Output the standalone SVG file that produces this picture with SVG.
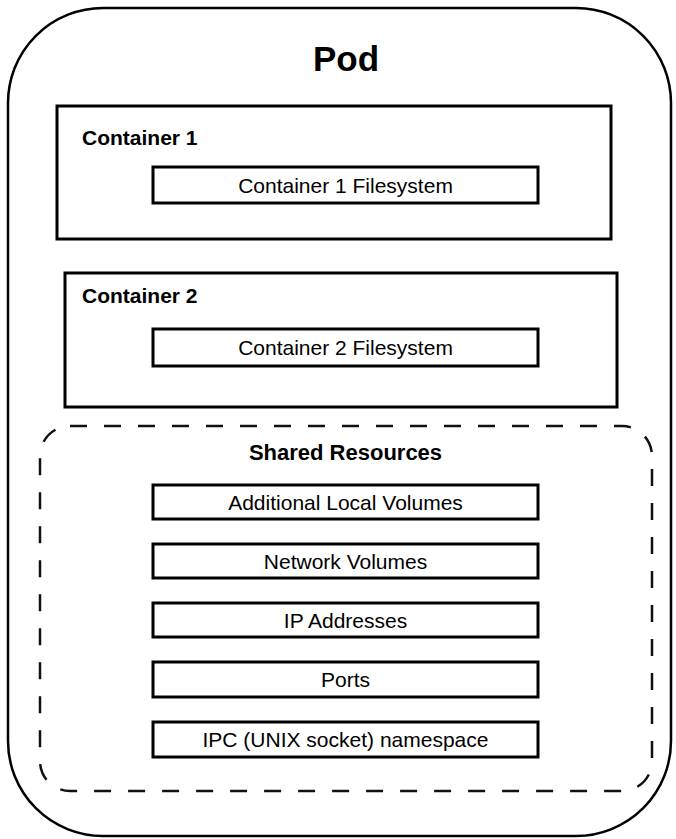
<svg xmlns="http://www.w3.org/2000/svg" width="676" height="839" viewBox="0 0 676 839">
<style>
  .box { fill: #fff; stroke: #000; stroke-width: 3; }
  .pod { fill: #fff; stroke: #000; stroke-width: 2.5; }
  .shared { fill: none; stroke: #111; stroke-width: 2.5; stroke-dasharray: 17 17; }
  .title { font-family: "Liberation Sans", Arial, sans-serif; font-weight: bold; fill: #000; }
  .lbl { font-family: "Liberation Sans", Arial, sans-serif; font-size: 21px; fill: #000; text-anchor: middle; }
</style>
<g id="pod">
  <rect class="pod" x="8" y="8" width="663" height="828" rx="95" ry="95"/>
  <text class="title" x="346" y="71" font-size="35" text-anchor="middle">Pod</text>
</g>
<g id="container1">
  <rect class="box" x="57" y="106" width="554" height="133"/>
  <text class="title" x="82" y="145" font-size="21">Container 1</text>
</g>
<g id="container1-fs">
  <rect class="box" x="153" y="167" width="385" height="36"/>
  <text class="lbl" x="345.5" y="192.5">Container 1 Filesystem</text>
</g>
<g id="container2">
  <rect class="box" x="65" y="273" width="552" height="134"/>
  <text class="title" x="82" y="303" font-size="21">Container 2</text>
</g>
<g id="container2-fs">
  <rect class="box" x="153" y="329" width="385" height="37"/>
  <text class="lbl" x="345.5" y="355">Container 2 Filesystem</text>
</g>
<g id="shared-resources">
  <rect class="shared" x="40" y="426" width="612" height="365" rx="30" ry="30"/>
  <text class="title" x="345.5" y="460" font-size="22" text-anchor="middle">Shared Resources</text>
</g>
<g id="additional-local-volumes">
  <rect class="box" x="153" y="485" width="385" height="34"/>
  <text class="lbl" x="345.5" y="509.5">Additional Local Volumes</text>
</g>
<g id="network-volumes">
  <rect class="box" x="153" y="544" width="385" height="34"/>
  <text class="lbl" x="345.5" y="568.5">Network Volumes</text>
</g>
<g id="ip-addresses">
  <rect class="box" x="153" y="603" width="385" height="34"/>
  <text class="lbl" x="345.5" y="627.5">IP Addresses</text>
</g>
<g id="ports">
  <rect class="box" x="153" y="662" width="385" height="35"/>
  <text class="lbl" x="345.5" y="687">Ports</text>
</g>
<g id="ipc-namespace">
  <rect class="box" x="153" y="722" width="385" height="35"/>
  <text class="lbl" x="345.5" y="747">IPC (UNIX socket) namespace</text>
</g>
<g id="connectors"/>
</svg>
